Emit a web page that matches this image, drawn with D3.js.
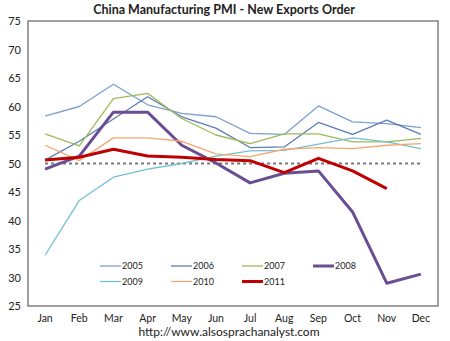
<!DOCTYPE html>
<meta charset="utf-8">
<script src="https://d3js.org/d3.v7.min.js"></script>
<style>
  body { margin: 0; background: #fff; }
  text { font-family: Lato, "Open Sans", sans-serif; fill: #222; }
</style>
<div id="chart"></div>
<script>

// months and yearly series
var months = ["Jan","Feb","Mar","Apr","May","Jun","Jul","Aug","Sep","Oct","Nov","Dec"];
var yTicks = [25, 30, 35, 40, 45, 50, 55, 60, 65, 70, 75];

var s2005 = [58.3, 60.0, 63.9, 60.3, 58.8, 58.2, 55.3, 55.1, 60.1, 57.3, 57.0, 56.3];
var s2006 = [50.6, 53.9, 57.8, 61.7, 58.2, 56.2, 52.8, 52.9, 57.2, 55.1, 57.6, 55.1];
var s2007 = [55.2, 53.1, 61.4, 62.3, 57.9, 55.0, 53.5, 55.2, 55.2, 53.8, 53.8, 54.4];
var s2008 = [49.0, 51.3, 59.0, 59.0, 53.2, 50.1, 46.6, 48.3, 48.7, 41.5, 29.0, 30.6];
var s2009 = [33.9, 43.5, 47.6, 49.0, 50.0, 51.3, 52.2, 52.3, 53.4, 54.5, 53.8, 52.6];
var s2010 = [53.2, 50.5, 54.5, 54.5, 53.9, 51.7, 51.2, 52.5, 52.8, 52.6, 53.2, 53.5];
var s2011 = [50.6, 51.1, 52.5, 51.3, 51.1, 50.7, 50.5, 48.4, 50.9, 48.7, 45.6];

var series = [
  {name: "2005", values: s2005, color: "#7c9fcf", width: 1.3},
  {name: "2006", values: s2006, color: "#5b7db5", width: 1.3},
  {name: "2007", values: s2007, color: "#9bbb59", width: 1.3},
  {name: "2008", values: s2008, color: "#6a4e94", width: 3},
  {name: "2009", values: s2009, color: "#72bfd2", width: 1.3},
  {name: "2010", values: s2010, color: "#f4a673", width: 1.3},
  {name: "2011", values: s2011, color: "#c00000", width: 3}
];

var W = 450, H = 341;
var margin = {top: 21, right: 12, bottom: 35, left: 28},
    width = W - margin.left - margin.right,
    height = H - margin.top - margin.bottom;

var svg = d3.select("#chart").append("svg")
    .attr("width", W)
    .attr("height", H);

var g = svg.append("g")
    .attr("transform", "translate(" + margin.left + "," + margin.top + ")");

var x = d3.scaleBand().domain(months).range([0, width]);
var y = d3.scaleLinear().domain([25, 75]).range([height, 0]);

// title
svg.append("text")
    .attr("x", 224)
    .attr("y", 14)
    .attr("text-anchor", "middle")
    .attr("font-size", "12.5px")
    .attr("font-weight", "bold")
    .text("China Manufacturing PMI - New Exports Order");

// frame
g.append("rect")
    .attr("width", width)
    .attr("height", height)
    .attr("fill", "none")
    .attr("stroke", "#808080")
    .attr("stroke-width", 1.5);

// y axis labels
var yAxis = d3.axisLeft(y).tickValues(yTicks).tickSize(0).tickPadding(7);
g.append("g")
    .call(yAxis)
    .call(function(a) { a.select(".domain").remove(); })
    .selectAll("text")
    .attr("font-size", "11px")
    .attr("font-family", "Lato, sans-serif")
    .attr("fill", "#222");

// x axis labels
var xAxis = d3.axisBottom(x).tickSize(0).tickPadding(9);
g.append("g")
    .attr("transform", "translate(0," + height + ")")
    .call(xAxis)
    .call(function(a) { a.select(".domain").remove(); })
    .selectAll("text")
    .attr("font-size", "10.5px")
    .attr("font-family", "Lato, sans-serif")
    .attr("fill", "#222");

// 50 reference line
g.append("line")
    .attr("x1", x("Jan") + x.bandwidth() / 2)
    .attr("x2", x("Dec") + x.bandwidth() / 2)
    .attr("y1", y(50))
    .attr("y2", y(50))
    .attr("stroke", "#777")
    .attr("stroke-width", 2)
    .attr("stroke-dasharray", "3,3");

var line = d3.line()
    .x(function(d, i) { return x(months[i]) + x.bandwidth() / 2; })
    .y(function(d) { return y(d); });

g.selectAll(".series")
  .data(series)
  .enter().append("path")
    .attr("class", "series")
    .attr("d", function(d) { return line(d.values); })
    .attr("fill", "none")
    .attr("stroke", function(d) { return d.color; })
    .attr("stroke-width", function(d) { return d.width; })
    .attr("stroke-linejoin", "round");

// legend (4 columns, 2 rows)
var legend = svg.append("g").attr("transform", "translate(100,266)");
var item = legend.selectAll(".leg")
  .data(series)
  .enter().append("g")
    .attr("transform", function(d, i) {
      return "translate(" + ((i % 4) * 71) + "," + (Math.floor(i / 4) * 15.5) + ")";
    });
item.append("line")
    .attr("x1", 0).attr("x2", 21)
    .attr("stroke", function(d) { return d.color; })
    .attr("stroke-width", function(d) { return d.width; });
item.append("text")
    .attr("x", 22)
    .attr("dy", "0.35em")
    .attr("font-size", "9px")
    .text(function(d) { return d.name; });

// source
svg.append("text")
    .attr("x", 229)
    .attr("y", 336)
    .attr("text-anchor", "middle")
    .attr("font-size", "12px")
    .text("http://www.alsosprachanalyst.com");

</script>
